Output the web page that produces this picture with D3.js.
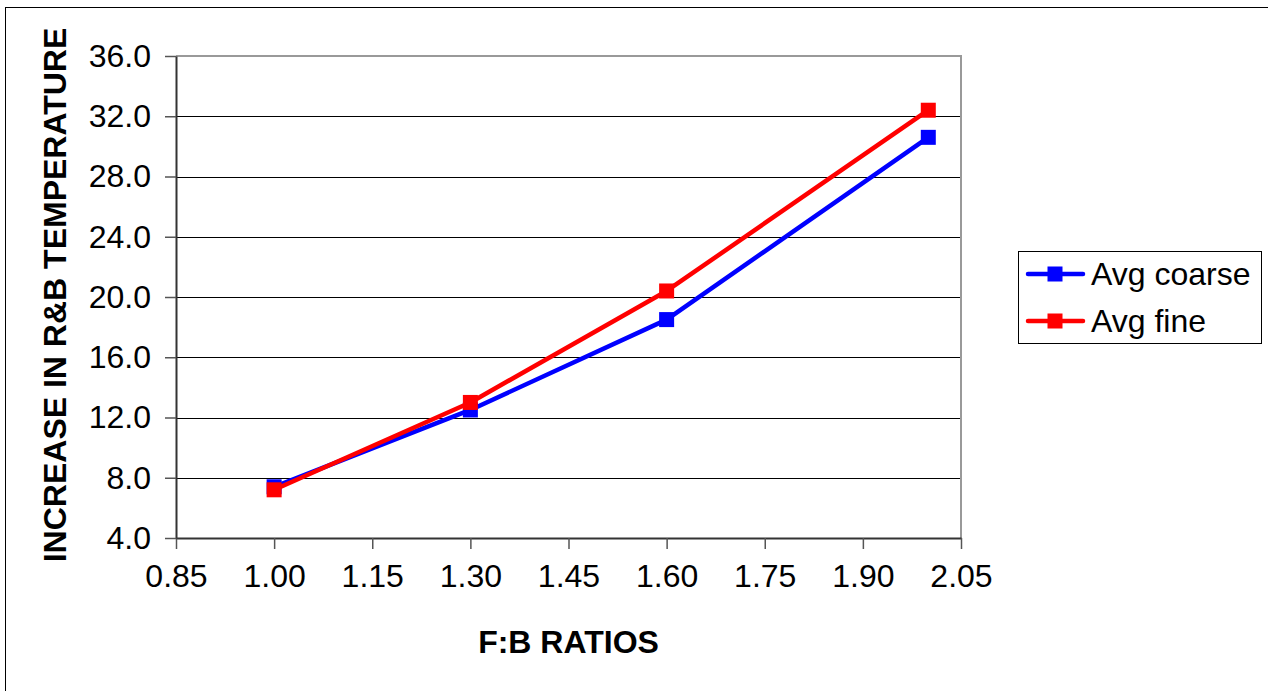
<!DOCTYPE html>
<html lang="en">
<head>
  <meta charset="UTF-8">
  <title>F:B Ratios chart</title>
  <style>
    body { margin: 0; background: #fff; }
    svg { display: block; font-family: Arial, "Liberation Sans", sans-serif; }
  </style>
</head>
<body>
  <svg id="chart"></svg>
  <script src="https://cdn.jsdelivr.net/npm/d3@7"></script>
  <script>
    var ratios = [1.00, 1.30, 1.60, 2.00];
    var avgCoarse = [7.4, 12.5, 18.5, 30.6];
    var avgFine = [7.2, 13.0, 20.4, 32.4];
    var seriesNames = ["Avg coarse", "Avg fine"];
    var xTicks = [0.85, 1.00, 1.15, 1.30, 1.45, 1.60, 1.75, 1.90, 2.05];
    var yTicks = [4, 8, 12, 16, 20, 24, 28, 32, 36];

    var width = 1268, height = 691;
    var plotLeft = 176, plotRight = 961, plotTop = 56, plotBottom = 538;
    var fontSize = 32;

    var svg = d3.select("#chart")
      .attr("width", width)
      .attr("height", height);

    // outer chart frame (runs off the right / bottom edge)
    svg.append("rect")
      .attr("x", 5.5).attr("y", 7.5)
      .attr("width", 1300).attr("height", 700)
      .attr("fill", "none").attr("stroke", "#000").attr("stroke-width", 1);

    var x = d3.scaleLinear().domain([0.85, 2.05]).range([plotLeft, plotRight]);
    var y = d3.scaleLinear().domain([4, 36]).range([plotBottom, plotTop]);

    // gridlines
    svg.append("g")
      .selectAll("line")
      .data(yTicks.slice(1, -1))
      .enter().append("line")
      .attr("x1", plotLeft).attr("x2", plotRight)
      .attr("y1", d => Math.round(y(d)) + 0.5).attr("y2", d => Math.round(y(d)) + 0.5)
      .attr("stroke", "#000").attr("stroke-width", 1);

    // plot area border (top / right in gray)
    svg.append("path")
      .attr("d", `M${plotLeft},${plotTop} H${plotRight} V${plotBottom}`)
      .attr("fill", "none").attr("stroke", "#999").attr("stroke-width", 2);

    var xAxis = d3.axisBottom(x).tickValues(xTicks).tickFormat(d3.format(".2f"))
      .tickSizeInner(11).tickSizeOuter(0).tickPadding(15);
    var yAxis = d3.axisLeft(y).tickValues(yTicks).tickFormat(d3.format(".1f"))
      .tickSizeInner(11).tickSizeOuter(0).tickPadding(14);

    var gx = svg.append("g")
      .attr("transform", `translate(0,${plotBottom})`)
      .call(xAxis);
    var gy = svg.append("g")
      .attr("transform", `translate(${plotLeft},0)`)
      .call(yAxis);

    [gx, gy].forEach(function (g) {
      g.select(".domain").attr("stroke", "#333").attr("stroke-width", 2);
      g.selectAll(".tick line").attr("stroke", "#555").attr("stroke-width", 1.5);
      g.selectAll("text")
        .attr("font-size", fontSize)
        .attr("font-family", "Arial, 'Liberation Sans', sans-serif")
        .attr("fill", "#000");
    });

    // axis titles
    svg.append("text")
      .attr("x", (plotLeft + plotRight) / 2)
      .attr("y", 653)
      .attr("text-anchor", "middle")
      .attr("font-size", fontSize).attr("font-weight", "bold")
      .text("F:B RATIOS");

    svg.append("text")
      .attr("transform", `translate(66,${(plotTop + plotBottom) / 2 - 2}) rotate(-90)`)
      .attr("text-anchor", "middle")
      .attr("font-size", fontSize).attr("font-weight", "bold")
      .text("INCREASE IN R&B TEMPERATURE");

    var series = [
      { name: seriesNames[0], values: avgCoarse, color: "#0000ff" },
      { name: seriesNames[1], values: avgFine, color: "#ff0000" }
    ];

    var line = d3.line()
      .x((d, i) => x(ratios[i]))
      .y(d => y(d));

    var markerSize = 15;

    series.forEach(function (s) {
      var g = svg.append("g");
      g.append("path")
        .attr("d", line(s.values))
        .attr("fill", "none")
        .attr("stroke", s.color)
        .attr("stroke-width", 4.5)
        .attr("stroke-linejoin", "round");
      g.selectAll("rect")
        .data(s.values)
        .enter().append("rect")
        .attr("x", (d, i) => x(ratios[i]) - markerSize / 2)
        .attr("y", d => y(d) - markerSize / 2)
        .attr("width", markerSize).attr("height", markerSize)
        .attr("fill", s.color);
    });

    // legend
    var legend = svg.append("g");
    legend.append("rect")
      .attr("x", 1018.5).attr("y", 251.5)
      .attr("width", 243).attr("height", 92)
      .attr("fill", "#fff").attr("stroke", "#000").attr("stroke-width", 1);

    var entries = legend.selectAll("g.entry")
      .data(series)
      .enter().append("g")
      .attr("class", "entry")
      .attr("transform", (d, i) => `translate(0,${274 + i * 47})`);
    entries.append("line")
      .attr("x1", 1028).attr("x2", 1083)
      .attr("stroke", d => d.color).attr("stroke-width", 4.5)
      .attr("stroke-linecap", "round");
    entries.append("rect")
      .attr("x", 1055 - markerSize / 2).attr("y", -markerSize / 2)
      .attr("width", markerSize).attr("height", markerSize)
      .attr("fill", d => d.color);
    entries.append("text")
      .attr("x", 1091).attr("y", 0)
      .attr("dy", "0.35em")
      .attr("font-size", fontSize)
      .text(d => d.name);
  </script>
</body>
</html>
